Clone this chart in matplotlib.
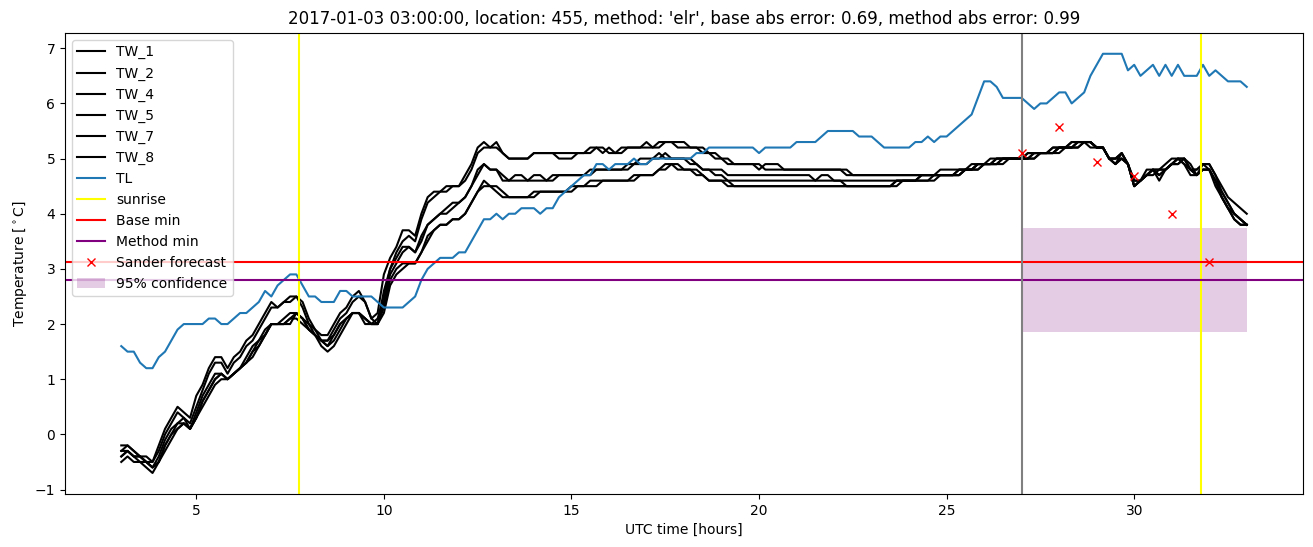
import matplotlib
matplotlib.use('Agg')
import matplotlib.pyplot as plt
import numpy as np

# 10 minute samples from 03:00 to 33:00 (hours since day start)
hours = np.linspace(3, 33, 181)

TW_1 = [-0.3, -0.2, -0.3, -0.4, -0.5, -0.6,
        -0.4, -0.1, 0.1, 0.2, 0.3, 0.1,
        0.4, 0.7, 0.9, 1.1, 1.1, 1.0,
        1.1, 1.2, 1.4, 1.6, 1.7, 1.9,
        2.0, 2.0, 2.1, 2.2, 2.2, 2.1,
        2.0, 1.9, 1.8, 1.8, 2.0, 2.2,
        2.3, 2.5, 2.6, 2.4, 2.1, 2.2,
        2.9, 3.2, 3.4, 3.7, 3.7, 3.6,
        4.0, 4.3, 4.4, 4.4, 4.5, 4.5,
        4.5, 4.7, 4.9, 5.2, 5.3, 5.2,
        5.3, 5.1, 5.0, 5.0, 5.0, 5.0,
        5.1, 5.1, 5.1, 5.1, 5.1, 5.1,
        5.1, 5.1, 5.1, 5.2, 5.2, 5.1,
        5.2, 5.1, 5.2, 5.2, 5.2, 5.2,
        5.3, 5.2, 5.3, 5.3, 5.3, 5.3,
        5.3, 5.2, 5.2, 5.2, 5.1, 5.1,
        5.0, 4.9, 4.9, 4.9, 4.9, 4.9,
        4.8, 4.9, 4.9, 4.9, 4.8, 4.8,
        4.8, 4.8, 4.8, 4.8, 4.8, 4.8,
        4.8, 4.8, 4.8, 4.7, 4.7, 4.7,
        4.7, 4.7, 4.7, 4.7, 4.7, 4.7,
        4.7, 4.7, 4.7, 4.7, 4.7, 4.7,
        4.7, 4.7, 4.8, 4.8, 4.9, 4.9,
        4.9, 4.9, 5.0, 5.0, 5.0, 5.0,
        5.0, 5.1, 5.1, 5.1, 5.1, 5.2,
        5.2, 5.2, 5.2, 5.3, 5.3, 5.3,
        5.2, 5.2, 5.0, 4.9, 5.1, 4.9,
        4.5, 4.6, 4.8, 4.8, 4.7, 4.8,
        4.9, 5.0, 5.0, 4.8, 4.8, 4.9,
        4.9, 4.7, 4.5, 4.3, 4.2, 4.1,
        4.0]
TW_2 = [-0.4, -0.3, -0.4, -0.4, -0.5, -0.6,
        -0.5, -0.2, 0.0, 0.1, 0.2, 0.1,
        0.3, 0.6, 0.8, 1.0, 1.1, 1.0,
        1.1, 1.2, 1.3, 1.5, 1.7, 1.8,
        2.0, 2.0, 2.0, 2.1, 2.1, 2.0,
        1.9, 1.8, 1.7, 1.7, 1.9, 2.1,
        2.2, 2.4, 2.5, 2.4, 2.1, 2.0,
        2.6, 3.0, 3.3, 3.5, 3.6, 3.5,
        3.9, 4.2, 4.3, 4.4, 4.4, 4.5,
        4.5, 4.6, 4.8, 5.1, 5.2, 5.2,
        5.2, 5.1, 5.0, 5.0, 5.0, 5.0,
        5.1, 5.1, 5.1, 5.1, 5.0, 5.0,
        5.0, 5.1, 5.1, 5.1, 5.2, 5.2,
        5.1, 5.1, 5.1, 5.2, 5.2, 5.2,
        5.2, 5.2, 5.2, 5.3, 5.3, 5.2,
        5.2, 5.2, 5.2, 5.1, 5.1, 5.0,
        5.0, 5.0, 4.9, 4.9, 4.9, 4.9,
        4.9, 4.8, 4.8, 4.8, 4.8, 4.8,
        4.8, 4.8, 4.8, 4.8, 4.8, 4.8,
        4.8, 4.8, 4.7, 4.7, 4.7, 4.7,
        4.7, 4.7, 4.7, 4.7, 4.7, 4.7,
        4.7, 4.7, 4.7, 4.7, 4.7, 4.8,
        4.8, 4.8, 4.8, 4.8, 4.8, 4.9,
        4.9, 5.0, 5.0, 5.0, 5.0, 5.0,
        5.0, 5.0, 5.1, 5.1, 5.1, 5.1,
        5.2, 5.2, 5.3, 5.3, 5.3, 5.3,
        5.2, 5.2, 5.0, 5.0, 5.1, 4.9,
        4.5, 4.6, 4.7, 4.8, 4.8, 4.9,
        5.0, 5.0, 4.9, 4.8, 4.8, 4.9,
        4.8, 4.6, 4.4, 4.2, 4.0, 3.9,
        3.8]
TW_4 = [-0.2, -0.2, -0.3, -0.4, -0.4, -0.5,
        -0.2, 0.1, 0.3, 0.5, 0.4, 0.3,
        0.7, 0.9, 1.2, 1.4, 1.4, 1.2,
        1.4, 1.5, 1.7, 1.8, 2.0, 2.2,
        2.4, 2.3, 2.4, 2.5, 2.5, 2.4,
        2.1, 1.9, 1.7, 1.6, 1.7, 1.9,
        2.1, 2.2, 2.2, 2.1, 2.0, 2.1,
        2.5, 3.0, 3.2, 3.4, 3.4, 3.3,
        3.6, 3.8, 3.9, 4.0, 4.1, 4.2,
        4.2, 4.3, 4.5, 4.8, 4.9, 4.8,
        4.8, 4.7, 4.6, 4.7, 4.7, 4.6,
        4.7, 4.7, 4.6, 4.7, 4.7, 4.7,
        4.7, 4.7, 4.7, 4.8, 4.8, 4.8,
        4.8, 4.8, 4.8, 4.9, 4.9, 5.0,
        5.0, 5.0, 5.0, 5.1, 5.0, 5.0,
        5.0, 5.0, 4.9, 4.8, 4.8, 4.8,
        4.8, 4.7, 4.7, 4.7, 4.7, 4.7,
        4.7, 4.7, 4.7, 4.7, 4.7, 4.7,
        4.7, 4.7, 4.7, 4.6, 4.6, 4.6,
        4.6, 4.6, 4.6, 4.6, 4.6, 4.6,
        4.6, 4.6, 4.6, 4.6, 4.6, 4.6,
        4.6, 4.6, 4.7, 4.7, 4.7, 4.7,
        4.7, 4.7, 4.7, 4.8, 4.8, 4.9,
        4.9, 4.9, 4.9, 5.0, 5.0, 5.0,
        5.0, 5.0, 5.0, 5.1, 5.1, 5.1,
        5.2, 5.2, 5.2, 5.2, 5.3, 5.2,
        5.2, 5.2, 5.0, 4.9, 5.0, 4.9,
        4.5, 4.6, 4.7, 4.8, 4.7, 4.8,
        4.9, 4.9, 5.0, 4.8, 4.7, 4.9,
        4.9, 4.7, 4.4, 4.2, 4.0, 3.9,
        3.8]
TW_5 = [-0.3, -0.3, -0.4, -0.4, -0.5, -0.5,
        -0.3, 0.0, 0.2, 0.4, 0.3, 0.2,
        0.5, 0.8, 1.1, 1.3, 1.3, 1.1,
        1.3, 1.4, 1.6, 1.7, 1.9, 2.1,
        2.3, 2.3, 2.4, 2.4, 2.5, 2.3,
        2.0, 1.8, 1.6, 1.5, 1.6, 1.8,
        2.0, 2.2, 2.2, 2.0, 2.0, 2.0,
        2.4, 2.9, 3.1, 3.3, 3.4, 3.3,
        3.5, 3.8, 3.9, 4.0, 4.0, 4.1,
        4.2, 4.3, 4.5, 4.7, 4.9, 4.8,
        4.8, 4.6, 4.6, 4.6, 4.6, 4.6,
        4.6, 4.6, 4.6, 4.6, 4.7, 4.7,
        4.7, 4.7, 4.7, 4.7, 4.8, 4.8,
        4.8, 4.8, 4.8, 4.8, 4.9, 4.9,
        4.9, 5.0, 5.1, 5.0, 5.0, 5.0,
        5.0, 4.9, 4.9, 4.8, 4.8, 4.7,
        4.7, 4.6, 4.6, 4.6, 4.6, 4.6,
        4.6, 4.6, 4.6, 4.6, 4.6, 4.6,
        4.6, 4.6, 4.6, 4.6, 4.7, 4.7,
        4.6, 4.6, 4.5, 4.5, 4.5, 4.5,
        4.5, 4.5, 4.5, 4.5, 4.6, 4.6,
        4.6, 4.6, 4.7, 4.7, 4.7, 4.7,
        4.7, 4.7, 4.7, 4.8, 4.8, 4.8,
        4.9, 4.9, 4.9, 4.9, 5.0, 5.0,
        5.0, 5.0, 5.1, 5.1, 5.1, 5.1,
        5.1, 5.2, 5.2, 5.3, 5.3, 5.3,
        5.2, 5.2, 5.0, 5.0, 5.1, 4.9,
        4.6, 4.6, 4.7, 4.8, 4.8, 4.8,
        4.9, 5.0, 5.0, 4.9, 4.7, 4.8,
        4.8, 4.6, 4.3, 4.1, 4.0, 3.9,
        3.8]
TW_7 = [-0.4, -0.3, -0.4, -0.5, -0.5, -0.6,
        -0.5, -0.2, 0.0, 0.2, 0.2, 0.1,
        0.3, 0.6, 0.8, 1.0, 1.1, 1.0,
        1.1, 1.2, 1.3, 1.5, 1.6, 1.8,
        2.0, 2.0, 2.0, 2.1, 2.2, 2.1,
        1.9, 1.8, 1.7, 1.6, 1.8, 2.0,
        2.1, 2.2, 2.2, 2.1, 2.0, 2.0,
        2.3, 2.8, 3.0, 3.1, 3.1, 3.1,
        3.3, 3.6, 3.7, 3.8, 3.8, 3.9,
        3.9, 4.0, 4.2, 4.4, 4.6, 4.5,
        4.5, 4.4, 4.3, 4.3, 4.3, 4.3,
        4.4, 4.4, 4.4, 4.4, 4.4, 4.4,
        4.5, 4.5, 4.5, 4.6, 4.6, 4.6,
        4.6, 4.6, 4.6, 4.6, 4.7, 4.7,
        4.7, 4.7, 4.8, 4.9, 4.9, 4.8,
        4.8, 4.8, 4.8, 4.7, 4.6, 4.6,
        4.6, 4.5, 4.5, 4.5, 4.5, 4.5,
        4.5, 4.5, 4.5, 4.5, 4.5, 4.5,
        4.5, 4.5, 4.5, 4.5, 4.5, 4.5,
        4.5, 4.5, 4.5, 4.5, 4.5, 4.5,
        4.5, 4.5, 4.5, 4.5, 4.5, 4.6,
        4.6, 4.6, 4.6, 4.6, 4.6, 4.7,
        4.7, 4.7, 4.8, 4.8, 4.8, 4.9,
        4.9, 4.9, 4.9, 5.0, 5.0, 5.0,
        5.0, 5.1, 5.1, 5.1, 5.1, 5.2,
        5.2, 5.2, 5.3, 5.3, 5.3, 5.3,
        5.2, 5.2, 5.0, 5.0, 5.0, 4.9,
        4.5, 4.6, 4.7, 4.8, 4.6, 4.8,
        4.9, 5.0, 4.9, 4.7, 4.7, 4.8,
        4.8, 4.5, 4.3, 4.1, 3.9, 3.8,
        3.8]
TW_8 = [-0.5, -0.4, -0.5, -0.5, -0.6, -0.7,
        -0.5, -0.3, -0.1, 0.1, 0.2, 0.1,
        0.3, 0.5, 0.7, 0.9, 1.0, 1.0,
        1.1, 1.2, 1.3, 1.4, 1.6, 1.8,
        2.0, 2.0, 2.0, 2.0, 2.2, 2.1,
        1.9, 1.8, 1.7, 1.7, 1.8, 2.0,
        2.1, 2.2, 2.2, 2.1, 2.0, 2.0,
        2.2, 2.7, 2.9, 3.0, 3.1, 3.1,
        3.3, 3.5, 3.7, 3.8, 3.8, 3.9,
        3.9, 4.0, 4.2, 4.4, 4.5, 4.5,
        4.4, 4.3, 4.3, 4.3, 4.3, 4.3,
        4.3, 4.4, 4.4, 4.4, 4.4, 4.4,
        4.4, 4.5, 4.5, 4.5, 4.5, 4.6,
        4.6, 4.6, 4.6, 4.6, 4.6, 4.7,
        4.7, 4.7, 4.8, 4.8, 4.9, 4.9,
        4.8, 4.8, 4.7, 4.7, 4.6, 4.6,
        4.6, 4.6, 4.5, 4.5, 4.5, 4.5,
        4.5, 4.5, 4.5, 4.5, 4.5, 4.5,
        4.5, 4.5, 4.5, 4.5, 4.5, 4.5,
        4.5, 4.5, 4.5, 4.5, 4.5, 4.5,
        4.5, 4.5, 4.5, 4.5, 4.6, 4.6,
        4.6, 4.6, 4.6, 4.6, 4.7, 4.7,
        4.7, 4.7, 4.7, 4.8, 4.8, 4.8,
        4.9, 4.9, 5.0, 5.0, 5.0, 5.0,
        5.0, 5.0, 5.0, 5.1, 5.1, 5.1,
        5.2, 5.2, 5.2, 5.2, 5.3, 5.3,
        5.2, 5.2, 5.0, 4.9, 5.0, 4.9,
        4.6, 4.6, 4.7, 4.7, 4.8, 4.8,
        4.9, 4.9, 5.0, 4.8, 4.7, 4.8,
        4.8, 4.6, 4.3, 4.1, 3.9, 3.8,
        3.8]
TL = [1.6, 1.5, 1.5, 1.3, 1.2, 1.2,
      1.4, 1.5, 1.7, 1.9, 2.0, 2.0,
      2.0, 2.0, 2.1, 2.1, 2.0, 2.0,
      2.1, 2.2, 2.2, 2.3, 2.4, 2.6,
      2.5, 2.7, 2.8, 2.9, 2.9, 2.7,
      2.5, 2.5, 2.4, 2.4, 2.4, 2.6,
      2.6, 2.5, 2.5, 2.5, 2.5, 2.4,
      2.3, 2.3, 2.3, 2.3, 2.4, 2.5,
      2.8, 3.0, 3.1, 3.2, 3.2, 3.2,
      3.3, 3.3, 3.5, 3.7, 3.9, 3.9,
      4.0, 3.9, 4.0, 4.0, 4.1, 4.1,
      4.1, 4.0, 4.1, 4.1, 4.3, 4.4,
      4.5, 4.6, 4.7, 4.7, 4.9, 4.9,
      4.8, 4.9, 4.9, 4.9, 5.0, 4.9,
      4.9, 5.0, 5.0, 5.0, 5.0, 5.0,
      5.0, 5.0, 5.1, 5.1, 5.2, 5.2,
      5.2, 5.2, 5.2, 5.2, 5.2, 5.2,
      5.1, 5.2, 5.2, 5.2, 5.2, 5.2,
      5.3, 5.3, 5.3, 5.3, 5.4, 5.5,
      5.5, 5.5, 5.5, 5.5, 5.4, 5.4,
      5.4, 5.3, 5.2, 5.2, 5.2, 5.2,
      5.2, 5.3, 5.3, 5.4, 5.3, 5.4,
      5.4, 5.5, 5.6, 5.7, 5.8, 6.1,
      6.4, 6.4, 6.3, 6.1, 6.1, 6.1,
      6.1, 6.0, 5.9, 6.0, 6.0, 6.1,
      6.2, 6.2, 6.0, 6.1, 6.2, 6.5,
      6.7, 6.9, 6.9, 6.9, 6.9, 6.6,
      6.7, 6.5, 6.6, 6.7, 6.5, 6.7,
      6.5, 6.7, 6.5, 6.5, 6.5, 6.7,
      6.5, 6.6, 6.5, 6.4, 6.4, 6.4,
      6.3]

tw_names = ['TW_1', 'TW_2', 'TW_4', 'TW_5', 'TW_7', 'TW_8']
tw_series = [TW_1, TW_2, TW_4, TW_5, TW_7, TW_8]

sunrise = [7.75, 31.77]
base_min = 3.12
method_min = 2.8
forecast_start = 27
forecast_hours = [27, 28, 29, 30, 31, 32]
sander_forecast = [5.11, 5.57, 4.93, 4.68, 3.99, 3.12]
conf_hours = [27, 33]
conf_low = 1.86
conf_high = 3.75

title = ("2017-01-03 03:00:00, location: 455, method: 'elr', "
         "base abs error: 0.69, method abs error: 0.99")

fig, ax = plt.subplots(figsize=(13.13, 5.47), dpi=100)
fig.subplots_adjust(left=0.0495, right=0.9924, top=0.94, bottom=0.097)

for name, vals in zip(tw_names, tw_series):
    ax.plot(hours, vals, color='black', label=name)
ax.plot(hours, TL, color='tab:blue', label='TL')

ax.axvline(sunrise[0], color='yellow', label='sunrise')
ax.axvline(sunrise[1], color='yellow')
ax.axhline(base_min, color='red', label='Base min')
ax.axhline(method_min, color='purple', label='Method min')
ax.axvline(forecast_start, color='grey')
ax.plot(forecast_hours, sander_forecast, 'x', color='red', label='Sander forecast')
ax.fill_between(conf_hours, conf_low, conf_high, color='purple', alpha=0.2,
                linewidth=0, label='95% confidence')

ax.set_title(title)
ax.set_xlabel('UTC time [hours]')
ax.set_ylabel(r'Temperature [$^\circ$C]')
ax.legend(loc='upper left')

plt.savefig('out.png')
